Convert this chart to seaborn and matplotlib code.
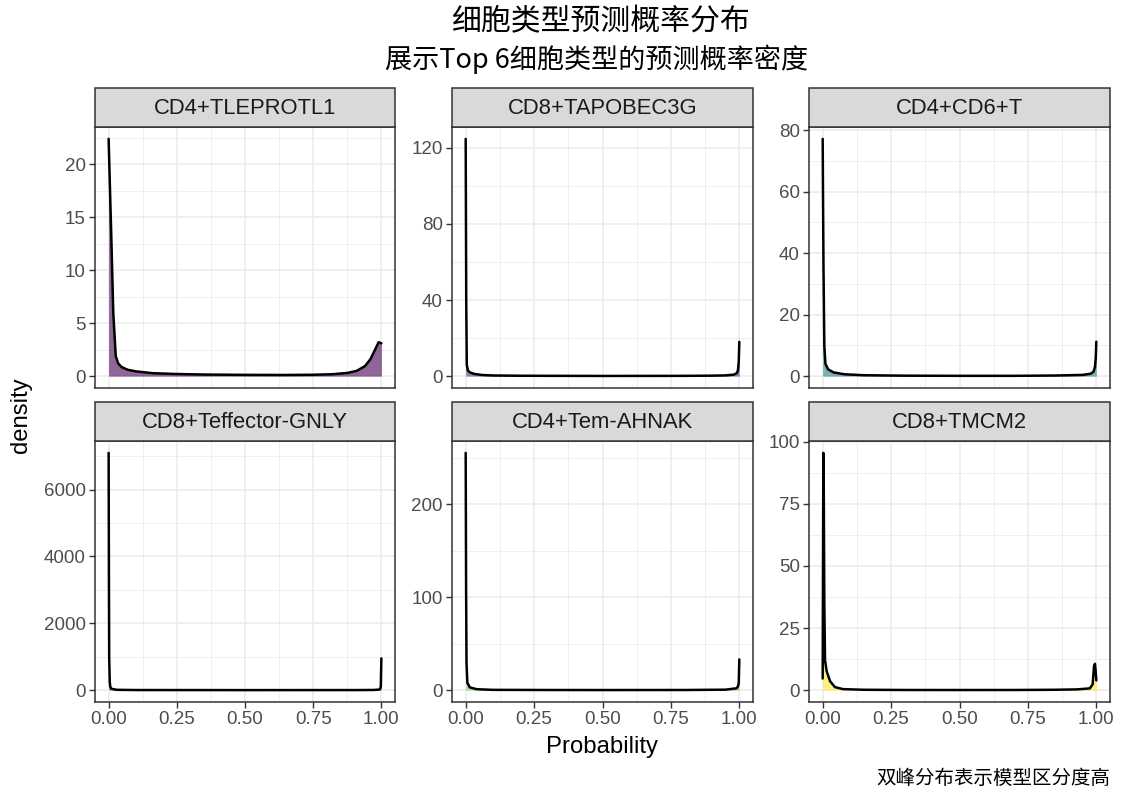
import numpy as np
import pandas as pd
import matplotlib
matplotlib.use("Agg")
import matplotlib.pyplot as plt
from matplotlib.patches import Rectangle
from matplotlib.ticker import MultipleLocator
import seaborn as sns

# ---- data: density curves of predicted probability, per cell type ----
cell_types = ["CD4+TLEPROTL1", "CD8+TAPOBEC3G", "CD4+CD6+T",
              "CD8+Teffector-GNLY", "CD4+Tem-AHNAK", "CD8+TMCM2"]

prob_tleprotl1 = [0, 0.004, 0.009, 0.017, 0.026, 0.035, 0.048, 0.07, 0.1, 0.16, 0.25,
                  0.35, 0.5, 0.65, 0.75, 0.82, 0.875, 0.91, 0.94, 0.96, 0.975, 0.99, 1.0]
dens_tleprotl1 = [22.4, 18.5, 13.9, 6.0, 1.9, 1.2, 0.85, 0.6, 0.45, 0.28, 0.2,
                  0.15, 0.12, 0.11, 0.13, 0.18, 0.3, 0.5, 0.95, 1.6, 2.4, 3.2, 3.1]

prob_tapobec3g = [0, 0.002, 0.004, 0.008, 0.015, 0.03, 0.06, 0.1, 0.2, 0.5, 0.8,
                  0.9, 0.95, 0.98, 0.99, 0.995, 0.998, 1.0]
dens_tapobec3g = [124.7, 40, 6, 3, 2, 1.2, 0.6, 0.35, 0.2, 0.1, 0.15,
                  0.25, 0.4, 0.8, 1.5, 3, 8, 18]

prob_cd6 = [0, 0.0015, 0.003, 0.006, 0.01, 0.02, 0.04, 0.08, 0.15, 0.3, 0.5, 0.7,
            0.85, 0.95, 0.98, 0.99, 0.995, 0.998, 1.0]
dens_cd6 = [77.2, 55, 35, 10, 4, 2.2, 1.2, 0.6, 0.3, 0.15, 0.1, 0.1,
            0.2, 0.4, 0.8, 1.5, 3, 6, 11.2]

prob_gnly = [0, 0.001, 0.002, 0.004, 0.006, 0.01, 0.03, 0.1, 0.5, 0.9, 0.97,
             0.99, 0.995, 0.998, 1.0]
dens_gnly = [7100, 3500, 1000, 250, 100, 40, 10, 3, 1, 2, 5,
             15, 30, 100, 950]

prob_ahnak = [0, 0.0015, 0.003, 0.006, 0.015, 0.04, 0.1, 0.3, 0.5, 0.8, 0.95,
              0.99, 0.995, 0.998, 1.0]
dens_ahnak = [255, 110, 30, 8, 3, 1, 0.3, 0.15, 0.1, 0.15, 0.5,
              2, 4, 8, 33]

prob_tmcm2 = [0, 0.0012, 0.0024, 0.004, 0.006, 0.0085, 0.0146, 0.027, 0.045, 0.075,
              0.15, 0.3, 0.5, 0.7, 0.85, 0.93, 0.976, 0.9866, 0.9915, 0.9951, 0.9976, 1.0]
dens_tmcm2 = [4.7, 50, 95.5, 80, 35, 12, 7.6, 3.6, 1.2, 0.4,
              0.15, 0.06, 0.05, 0.06, 0.15, 0.3, 0.7, 2.3, 9.6, 10.6, 7.6, 3.9]

y_breaks = [[0, 5, 10, 15, 20], [0, 40, 80, 120], [0, 20, 40, 60, 80],
            [0, 2000, 4000, 6000], [0, 100, 200], [0, 25, 50, 75, 100]]
x_breaks = [0, 0.25, 0.5, 0.75, 1.0]
x_labels = ["0.00", "0.25", "0.50", "0.75", "1.00"]

curves = [(prob_tleprotl1, dens_tleprotl1), (prob_tapobec3g, dens_tapobec3g),
          (prob_cd6, dens_cd6), (prob_gnly, dens_gnly),
          (prob_ahnak, dens_ahnak), (prob_tmcm2, dens_tmcm2)]

df = pd.concat([pd.DataFrame({"cell_type": ct, "Probability": p, "density": d})
                for ct, (p, d) in zip(cell_types, curves)], ignore_index=True)

# ---- styling ----
sns.set_theme(style="white")
plt.rcParams["font.family"] = ["Liberation Sans", "DejaVu Sans"]
cjk = ["Noto Sans CJK SC", "DejaVu Sans"]
fill_cols = ["#440154", "#414487", "#2A788E", "#22A884", "#7AD151", "#FDE725"]

W, H = 1121, 792
fig = plt.figure(figsize=(W / 100, H / 100), dpi=100)
fig.patch.set_facecolor("white")

col_x = [(95, 395), (452, 753), (809, 1110)]
row_y = [((88, 127), (127, 388)), ((402, 441), (441, 702))]

def fig_rect(x0, x1, y0, y1):
    return [x0 / W, 1 - y1 / H, (x1 - x0) / W, (y1 - y0) / H]

for i, ct in enumerate(cell_types):
    r, c = divmod(i, 3)
    (sx0, sx1) = col_x[c]
    (st, sb), (pt, pb) = row_y[r]
    ax = fig.add_axes(fig_rect(sx0, sx1, pt, pb))
    sub = df[df["cell_type"] == ct]
    ymax = sub["density"].max()

    ax.fill_between(sub["Probability"], 0, sub["density"], color=fill_cols[i],
                    alpha=0.6, linewidth=0, zorder=2)
    sns.lineplot(data=sub, x="Probability", y="density", ax=ax, color="black",
                 linewidth=1.8, estimator=None, sort=False, zorder=3)

    ax.set_xlim(-0.05, 1.05)
    ax.set_xticks(x_breaks)
    ax.xaxis.set_minor_locator(MultipleLocator(0.125))
    yb = y_breaks[i]
    ax.set_yticks(yb)
    ax.set_yticklabels([f"{v:g}" for v in yb])
    step = yb[1] - yb[0]
    ax.set_yticks([v + step / 2 for v in [yb[0] - step] + yb], minor=True)
    ax.set_ylim(-0.05 * ymax, 1.05 * ymax)
    ax.set_xlabel("")
    ax.set_ylabel("")

    ax.grid(True, which="major", color="#EBEBEB", linewidth=1.1, zorder=0)
    ax.grid(True, which="minor", color="#EBEBEB", linewidth=0.55, zorder=0)
    ax.set_axisbelow(True)
    for s in ax.spines.values():
        s.set_color("#333333")
        s.set_linewidth(1.1)
    ax.tick_params(axis="both", which="major", length=4, width=1.0, color="#333333",
                   labelsize=13.5, labelcolor="#4D4D4D", pad=2.5)
    ax.tick_params(axis="both", which="minor", length=0)
    ax.tick_params(axis="y", left=True)
    if r == 1:
        ax.set_xticklabels(x_labels)
        ax.tick_params(axis="x", bottom=True)
    else:
        ax.tick_params(axis="x", which="both", bottom=False, labelbottom=False)

    # facet strip
    sax = fig.add_axes(fig_rect(sx0, sx1, st, sb))
    sax.set_xlim(0, 1)
    sax.set_ylim(0, 1)
    sax.axis("off")
    sax.add_patch(Rectangle((0, 0), 1, 1, transform=sax.transAxes, facecolor="#D9D9D9",
                            edgecolor="#333333", linewidth=1.1, clip_on=False))
    sax.text(0.5, 0.48, ct, ha="center", va="center", fontsize=15.8, color="#1A1A1A")

fig.text(600 / W, 1 - 22 / H, "细胞类型预测概率分布", ha="center", va="center",
         fontsize=21.5, family=cjk, color="black")
fig.text(597 / W, 1 - 59 / H, "展示Top 6细胞类型的预测概率密度", ha="center", va="center",
         fontsize=19.5, family=cjk, color="black")
fig.text(602 / W, 1 - 747 / H, "Probability", ha="center", va="center",
         fontsize=17.2, color="black")
fig.text(21 / W, 1 - 415 / H, "density", ha="center", va="center", rotation=90,
         fontsize=17.2, color="black")
fig.text(1110 / W, 1 - 778 / H, "双峰分布表示模型区分度高", ha="right", va="center",
         fontsize=14, family=cjk, color="black")

fig.savefig("out.png", dpi=100, facecolor="white")
